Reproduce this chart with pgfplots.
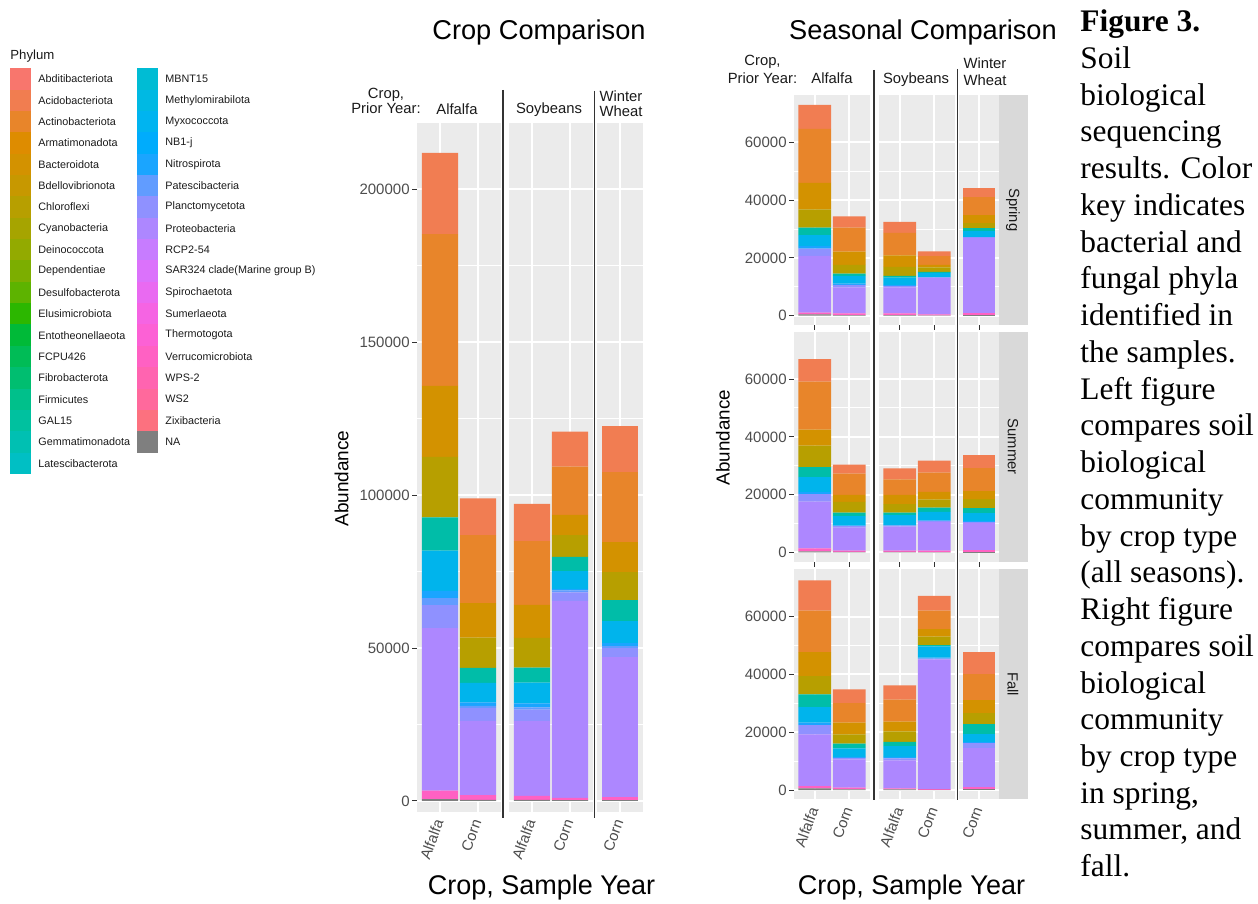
\documentclass[border=0pt]{standalone}
\usepackage{pgfplots}
\usepackage{pgfplotstable}
\pgfplotsset{compat=1.18}
\usepackage{fontspec}
\setmainfont{Liberation Sans}
\newfontfamily\capfont{Liberation Serif}

\definecolor{ggbg}{HTML}{EBEBEB}
\definecolor{gg20}{HTML}{333333}
\definecolor{gg30}{HTML}{4D4D4D}
\definecolor{gg10}{HTML}{1A1A1A}
\definecolor{stripc}{HTML}{D9D9D9}
\definecolor{cNA}{HTML}{7F7F7F}
\definecolor{cVer}{HTML}{FF61C3}
\definecolor{cPro}{HTML}{AD87FF}
\definecolor{cPla}{HTML}{8F91FF}
\definecolor{cPat}{HTML}{619CFF}
\definecolor{cNit}{HTML}{1AA5FF}
\definecolor{cMyx}{HTML}{00B4EC}
\definecolor{cGem}{HTML}{00BDA8}
\definecolor{cChl}{HTML}{B79F00}
\definecolor{cBac}{HTML}{D39200}
\definecolor{cAct}{HTML}{E8852A}
\definecolor{cAci}{HTML}{F17D52}

% Crop comparison (all seasons): bars 0..4 = Alfalfa/Alfalfa, Alfalfa/Corn, Soybeans/Alfalfa, Soybeans/Corn, Winter Wheat/Corn
\pgfplotstableread{
x NA Ver Pro Pla Pat Nit Myx Gem Chl Bac Act Aci
0 600 2800 53100 7500 2300 2400 13100 10900 19800 23200 49600 26500
1 400 1500 24300 4200 700 1100 6400 4900 9900 11300 22200 12000
2 400 1300 24400 3800 700 1300 6800 4900 9700 10800 20800 12200
3 300 700 64400 2800 600 500 5800 4700 7100 6600 15800 11400
4 300 1000 45600 3200 600 1100 7100 6800 9300 9500 22900 15300
}\cropdata

\pgfplotstableread{
x NA Ver Pro Pla Pat Nit Myx Gem Chl Bac Act Aci
0 500 600 19600 2500 0 900 3800 2600 6300 9200 18700 8300
1 200 600 9000 900 0 400 2700 800 3000 4600 8300 3900
2 200 600 9000 500 0 400 2500 600 3100 4000 7800 3800
3 100 400 12500 300 0 100 1400 400 1500 900 3000 1700
4 300 800 25700 400 0 0 2300 1000 1700 2600 6200 3100
}\springdata

\pgfplotstableread{
x NA Ver Pro Pla Pat Nit Myx Gem Chl Bac Act Aci
0 400 1000 16200 2600 0 700 5200 3400 7500 5500 16600 7800
1 200 400 8000 500 0 300 3200 1200 3700 2400 7400 3100
2 200 400 8300 400 0 200 3400 900 2900 3200 5400 3800
3 100 500 10000 300 0 200 2900 1500 2900 2600 6600 4200
4 200 800 9100 500 0 300 2900 1700 2900 2800 8100 4300
}\summerdata

\pgfplotstableread{
x NA Ver Pro Pla Pat Nit Myx Gem Chl Bac Act Aci
0 600 800 17900 3200 0 800 5400 4400 6300 8300 14400 10500
1 200 600 9800 500 0 400 2900 1700 3200 4000 6800 4700
2 200 400 9700 700 0 500 3700 1500 3600 3400 7600 4900
3 100 200 44900 300 0 300 3900 500 2900 2600 6400 5100
4 300 700 13400 1800 0 500 2800 3500 3700 4600 8900 7500
}\falldata

\newcommand{\stackbars}[1]{%
  \addplot[fill=cNA,draw=none] table[x=x,y=NA]{#1};
  \addplot[fill=cVer,draw=none] table[x=x,y=Ver]{#1};
  \addplot[fill=cPro,draw=none] table[x=x,y=Pro]{#1};
  \addplot[fill=cPla,draw=none] table[x=x,y=Pla]{#1};
  \addplot[fill=cPat,draw=none] table[x=x,y=Pat]{#1};
  \addplot[fill=cNit,draw=none] table[x=x,y=Nit]{#1};
  \addplot[fill=cMyx,draw=none] table[x=x,y=Myx]{#1};
  \addplot[fill=cGem,draw=none] table[x=x,y=Gem]{#1};
  \addplot[fill=cChl,draw=none] table[x=x,y=Chl]{#1};
  \addplot[fill=cBac,draw=none] table[x=x,y=Bac]{#1};
  \addplot[fill=cAct,draw=none] table[x=x,y=Act]{#1};
  \addplot[fill=cAci,draw=none] table[x=x,y=Aci]{#1};
}

\pgfplotsset{
  panel/.style={
    scale only axis, anchor=south west,
    ybar stacked, bar width=0.95,
    enlargelimits=false,
    scaled y ticks=false, scaled x ticks=false,
    axis background/.style={fill=ggbg},
    axis line style={draw=none},
    grid=both,
    major grid style={white, line width=1pt},
    minor grid style={white, line width=0.5pt},
    minor y tick num=1,
    minor tick length=0pt,
    major tick length=2.5pt,
    tick align=outside,
    xtick pos=left, ytick pos=left,
    tick style={color=gg20, line width=0.5pt},
    tick label style={font=\fontsize{7.5}{9}\selectfont, text=gg30},
    yticklabel style={inner sep=1pt},
    xticklabel style={rotate=70, anchor=east, inner sep=1.5pt},
  },
  noylab/.style={yticklabels={}, ytick style={draw=none}},
  nox/.style={xtick style={draw=none}},
  leftc/.style={ymin=-3500, ymax=221500, height=344.2pt,
    ytick={0,50000,100000,150000,200000},
    yticklabels={0,50000,100000,150000,200000}},
  rightc/.style={ymin=-3200, ymax=76400, height=115pt,
    ytick={0,20000,40000,60000},
    yticklabels={0,20000,40000,60000}},
  c1/.style={xmin=-0.6, xmax=1.6, xtick={0,1}, xticklabels={Alfalfa,Corn}, restrict x to domain=-0.5:1.5},
  c2/.style={xmin=1.4, xmax=3.6, xtick={2,3}, xticklabels={Alfalfa,Corn}, restrict x to domain=1.5:3.5},
  c3/.style={xmin=3.4, xmax=4.6, xtick={4}, xticklabels={Corn}, restrict x to domain=3.5:4.5},
}

\begin{document}
\begin{tikzpicture}
\path[use as bounding box] (0,0) rectangle (629pt,452pt);

% ---------- Crop comparison ----------
\begin{axis}[panel, leftc, c1, nox, at={(208.5pt,46.15pt)}, width=42pt]
\stackbars{\cropdata}
\end{axis}
\begin{axis}[panel, leftc, c2, nox, noylab, at={(254.5pt,46.15pt)}, width=42pt]
\stackbars{\cropdata}
\end{axis}
\begin{axis}[panel, leftc, c3, nox, noylab, at={(298.5pt,46.15pt)}, width=23pt]
\stackbars{\cropdata}
\end{axis}

% ---------- Seasonal comparison ----------
% Spring
\begin{axis}[panel, rightc, c1, xticklabels={}, at={(397pt,289.5pt)}, width=38pt]
\stackbars{\springdata}
\end{axis}
\begin{axis}[panel, rightc, c2, xticklabels={}, noylab, at={(439.5pt,289.5pt)}, width=38pt]
\stackbars{\springdata}
\end{axis}
\begin{axis}[panel, rightc, c3, xticklabels={}, noylab, at={(479.5pt,289.5pt)}, width=20pt]
\stackbars{\springdata}
\end{axis}
% Summer
\begin{axis}[panel, rightc, c1, xticklabels={}, at={(397pt,171.15pt)}, width=38pt]
\stackbars{\summerdata}
\end{axis}
\begin{axis}[panel, rightc, c2, xticklabels={}, noylab, at={(439.5pt,171.15pt)}, width=38pt]
\stackbars{\summerdata}
\end{axis}
\begin{axis}[panel, rightc, c3, xticklabels={}, noylab, at={(479.5pt,171.15pt)}, width=20pt]
\stackbars{\summerdata}
\end{axis}
% Fall
\begin{axis}[panel, rightc, c1, nox, at={(397pt,52.35pt)}, width=38pt]
\stackbars{\falldata}
\end{axis}
\begin{axis}[panel, rightc, c2, nox, noylab, at={(439.5pt,52.35pt)}, width=38pt]
\stackbars{\falldata}
\end{axis}
\begin{axis}[panel, rightc, c3, nox, noylab, at={(479.5pt,52.35pt)}, width=20pt]
\stackbars{\falldata}
\end{axis}

% ---------- annotations in pixel coordinates ----------
\begin{scope}[x=0.5pt, y=-0.5pt, shift={(0pt,452pt)}]
  % titles
  \node[anchor=base, inner sep=0pt, font=\fontsize{13.6}{16}\selectfont] at (539,40) {Crop Comparison};
  \node[anchor=base, inner sep=0pt, font=\fontsize{13.6}{16}\selectfont] at (923,40) {Seasonal Comparison};
  % strip headers
  \begin{scope}[every node/.style={anchor=base, inner sep=0pt, font=\fontsize{7.4}{9}\selectfont, text=gg10}]
    \node at (386,98.3) {Crop,};
    \node at (386,113.3) {Prior Year:};
    \node at (457,115) {Alfalfa};
    \node at (549,113.3) {Soybeans};
    \node at (621,101.7) {Winter};
    \node at (621,116.7) {Wheat};
    \node at (762.5,66) {Crop,};
    \node at (762.5,83.3) {Prior Year:};
    \node at (832,83.3) {Alfalfa};
    \node at (916,83.3) {Soybeans};
    \node at (985,68.3) {Winter};
    \node at (985,86) {Wheat};
  \end{scope}
  % separators
  \draw[line width=0.7pt, black!80] (503,90) -- (503,818);
  \draw[line width=0.7pt, black!80] (594.5,91) -- (594.5,818);
  \draw[line width=0.7pt, black!80] (874,70) -- (874,800);
  \draw[line width=0.7pt, black!80] (957.5,69) -- (957.5,800);
  % season strips
  \fill[stripc] (999,95) rectangle (1028,325);
  \fill[stripc] (999,331.7) rectangle (1028,561.7);
  \fill[stripc] (999,569.3) rectangle (1028,799.3);
  \begin{scope}[every node/.style={rotate=-90, inner sep=0pt, font=\fontsize{7.4}{9}\selectfont, text=gg10}]
    \node at (1013,210) {Spring};
    \node at (1013,446.7) {Summer};
    \node at (1013,684.3) {Fall};
  \end{scope}
  % axis titles
  \node[rotate=90, inner sep=0pt, font=\fontsize{9.5}{11}\selectfont] at (341.7,478.5) {Abundance};
  \node[rotate=90, inner sep=0pt, font=\fontsize{9.4}{11}\selectfont] at (723,437.5) {Abundance};
  \node[anchor=base, inner sep=0pt, font=\fontsize{13.5}{16}\selectfont] at (541.5,895) {Crop, Sample Year};
  \node[anchor=base, inner sep=0pt, font=\fontsize{13.5}{16}\selectfont] at (911.5,895) {Crop, Sample Year};
  % legend
  \node[anchor=base west, inner sep=0pt, font=\fontsize{6.6}{8}\selectfont, text=gg10] at (10,60) {Phylum};
  \foreach \c/\n [count=\i from 0] in {F8766D/Abditibacteriota, F17D50/Acidobacteriota, E8852A/Actinobacteriota, DE8C00/Armatimonadota, D39200/Bacteroidota, C79800/Bdellovibrionota, B79F00/Chloroflexi, A6A400/Cyanobacteria, 93AA00/Deinococcota, 7CAE00/Dependentiae, 5DB300/Desulfobacterota, 2CB700/Elusimicrobiota, 00BA38/Entotheonellaeota, 00BC56/FCPU426, 00BE70/Fibrobacterota, 00C08B/Firmicutes, 00C19F/GAL15, 00C0B2/Gemmatimonadota, 00BFC4/Latescibacterota}{
    \definecolor{tmpc}{HTML}{\c}
    \fill[tmpc] (10,{68.3+21.35*\i}) rectangle (31,{68.3+21.35*(\i+1)});
    \node[anchor=west, inner sep=0pt, font=\fontsize{5.4}{6.5}\selectfont, text=gg10] at (38,{68.3+21.35*(\i+0.5)}) {\n};
  }
  \foreach \c/\n [count=\i from 0] in {00BCD4/MBNT15, 00B9E3/Methylomirabilota, 00B4F0/Myxococcota, 00ACFC/NB1-j, 1AA5FF/Nitrospirota, 619CFF/Patescibacteria, 8F91FF/Planctomycetota, AD87FF/Proteobacteria, C77CFF/RCP2-54, DB72FB/{SAR324 clade(Marine group B)}, E96AF1/Spirochaetota, F564E3/Sumerlaeota, FC61D5/Thermotogota, FF61C3/Verrucomicrobiota, FF64B0/WPS-2, FF699C/WS2, FC717F/Zixibacteria, 7F7F7F/NA}{
    \definecolor{tmpc}{HTML}{\c}
    \fill[tmpc] (137,{68.3+21.35*\i}) rectangle (158,{68.3+21.35*(\i+1)});
    \node[anchor=west, inner sep=0pt, font=\fontsize{5.4}{6.5}\selectfont, text=gg10] at (165,{68.3+21.35*(\i+0.5)}) {\n};
  }
  % caption
  \node[anchor=base west, inner sep=0pt, font=\capfont\bfseries\fontsize{15.7}{19}\selectfont] at (1080,31.7) {Figure 3.};
  \foreach \t [count=\i from 1] in {Soil, biological, sequencing, {results. Color}, {key indicates}, {bacterial and}, {fungal phyla}, {identified in}, {the samples.}, {Left figure}, {compares soil}, biological, community, {by crop type}, {(all seasons).}, {Right figure}, {compares soil}, biological, community, {by crop type}, {in spring,}, {summer, and}, fall.}{
    \node[anchor=base west, inner sep=0pt, font=\capfont\fontsize{15.7}{19}\selectfont] at (1080,{31.7+36.74*\i}) {\t};
  }
\end{scope}
\end{tikzpicture}
\end{document}
